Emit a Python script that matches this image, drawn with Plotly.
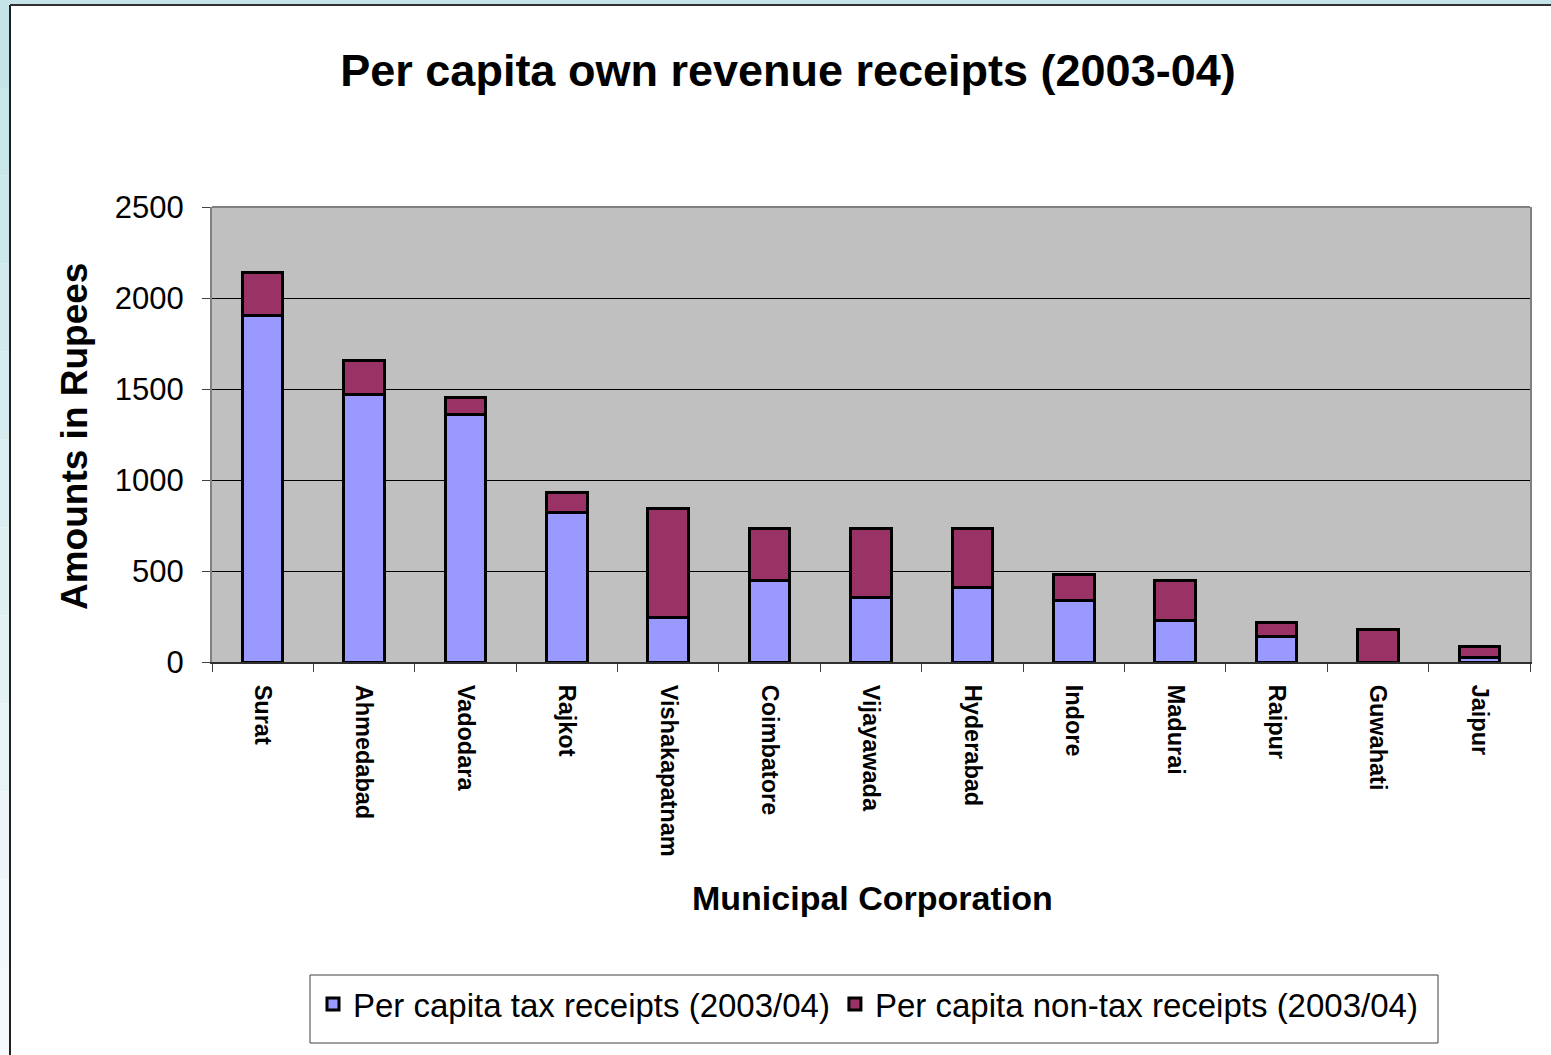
import plotly.graph_objects as go

# Municipal corporations and their per capita own revenue receipts (Rs), 2003-04
cities = ["Surat", "Ahmedabad", "Vadodara", "Rajkot", "Vishakapatnam", "Coimbatore",
          "Vijayawada", "Hyderabad", "Indore", "Madurai", "Raipur", "Guwahati", "Jaipur"]
tax_receipts = [1903, 1471, 1361, 823, 245, 447, 355, 410, 337, 229, 141, 0, 26]
non_tax_receipts = [238, 184, 92, 110, 597, 285, 377, 322, 146, 218, 75, 178, 60]
y_ticks = [0, 500, 1000, 1500, 2000, 2500]

W, H = 1551, 1055
L, R, T, B = 212, 21, 207, 393
PW, PH = W - L - R, H - T - B


def px_x(px):
    return (px - L) / PW


def px_y(py):
    return (H - B - py) / PH


fig = go.Figure()
fig.add_trace(go.Bar(
    x=cities, y=tax_receipts, name="Per capita tax receipts (2003/04)",
    marker=dict(color="#9999FF", line=dict(color="black", width=3)),
))
fig.add_trace(go.Bar(
    x=cities, y=non_tax_receipts, name="Per capita non-tax receipts (2003/04)",
    marker=dict(color="#993366", line=dict(color="black", width=3)),
))

# slide frame: light blue edge fading downwards, dark border line
shapes = []
top_c = (196, 228, 231)
bot_c = (246, 249, 252)
n = 12
for i in range(n):
    t = i / (n - 1)
    c = tuple(round(top_c[k] + (bot_c[k] - top_c[k]) * t) for k in range(3))
    y0 = i * H / n
    y1 = (i + 1) * H / n
    shapes.append(dict(type="rect", xref="paper", yref="paper",
                       x0=px_x(0), x1=px_x(9), y0=px_y(y1), y1=px_y(y0),
                       fillcolor="rgb(%d,%d,%d)" % c, line=dict(width=0), layer="below"))
shapes.append(dict(type="rect", xref="paper", yref="paper",
                   x0=px_x(0), x1=px_x(W), y0=px_y(4), y1=px_y(0),
                   fillcolor="rgb(196,228,231)", line=dict(width=0), layer="below"))
shapes.append(dict(type="line", xref="paper", yref="paper",
                   x0=px_x(10), x1=px_x(10), y0=px_y(H), y1=px_y(5),
                   line=dict(color="#202020", width=2)))
shapes.append(dict(type="line", xref="paper", yref="paper",
                   x0=px_x(10), x1=px_x(W), y0=px_y(5), y1=px_y(5),
                   line=dict(color="#303030", width=2)))
# legend frame
shapes.append(dict(type="rect", xref="paper", yref="paper",
                   x0=px_x(310), x1=px_x(1438), y0=px_y(1043), y1=px_y(975),
                   line=dict(color="#404040", width=1), fillcolor="rgba(0,0,0,0)"))
# top border of the plot area
shapes.append(dict(type="line", xref="paper", yref="paper", x0=0, x1=1, y0=1, y1=1,
                   line=dict(color="#808080", width=2)))

fig.update_layout(
    width=W, height=H,
    margin=dict(l=L, r=R, t=T, b=B, pad=0),
    barmode="stack", bargap=0.6,
    paper_bgcolor="white", plot_bgcolor="#C0C0C0",
    font=dict(family="Liberation Sans, Arial, sans-serif", color="black"),
    title=dict(text="<b>Per capita own revenue receipts (2003-04)</b>",
               font=dict(size=45, color="black"),
               x=788 / W, xref="container", xanchor="center",
               y=1 - 70 / H, yref="container", yanchor="middle"),
    showlegend=True,
    legend=dict(orientation="h", x=px_x(313), xanchor="left", y=px_y(1004), yanchor="middle",
                font=dict(size=33, color="black"), bgcolor="rgba(0,0,0,0)",
                borderwidth=0, traceorder="normal"),
    shapes=shapes,
    annotations=[
        dict(text="<b>Municipal Corporation</b>", xref="paper", yref="paper",
             x=px_x(872), y=px_y(898), xanchor="center", yanchor="middle",
             showarrow=False, font=dict(size=34, color="black")),
        dict(text="<b>Amounts in Rupees</b>", xref="paper", yref="paper",
             x=px_x(74), y=px_y(437), xanchor="center", yanchor="middle",
             textangle=-90, showarrow=False, font=dict(size=37, color="black")),
    ],
)

fig.update_xaxes(
    type="category", tickangle=90,
    tickfont=dict(size=23.5, family="Liberation Sans, Arial", weight="bold"),
    ticks="outside", ticklen=8, tickcolor="#404040", tickson="boundaries",
    showline=True, linecolor="#303030", linewidth=2, mirror=False,
    showgrid=False, ticklabelstandoff=16,
)
fig.update_yaxes(
    range=[0, 2500], tickvals=y_ticks, tickfont=dict(size=31),
    ticks="outside", ticklen=8, tickcolor="#404040",
    showline=True, linecolor="#808080", linewidth=2, mirror=True,
    showgrid=True, gridcolor="black", gridwidth=1,
    zeroline=False, ticklabelstandoff=12,
)

fig.write_html("out.html")
